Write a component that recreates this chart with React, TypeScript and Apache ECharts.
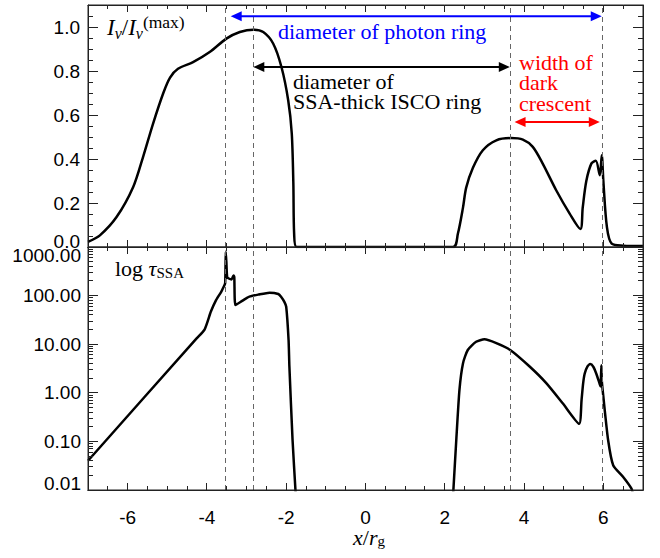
import React, { useEffect, useRef } from "react";
import * as echarts from "echarts";

// ---------- data ----------
const intensityX = [
  -7, -6.7, -6.28, -5.86, -5.61, -5.36, -5.1, -4.93, -4.73, -4.35, -3.93, -3.51, -3.17, -2.83,
  -2.58, -2.33, -2.12, -1.95, -1.86, -1.82, -1.8, -1.74, 2.21, 2.33, 2.46, 2.54, 2.71, 2.96, 3.3,
  3.67, 3.97, 4.22, 4.47, 4.81, 5.15, 5.42, 5.48, 5.57, 5.7, 5.81, 5.91, 5.96, 6.0, 6.09, 6.21,
  6.5, 7.0,
];
const intensityY = [
  0.023, 0.053, 0.136, 0.273, 0.41, 0.56, 0.7, 0.77, 0.81, 0.84, 0.886, 0.947, 0.977, 0.988,
  0.977, 0.925, 0.818, 0.667, 0.516, 0.289, 0.06, 0.0, 0.0, 0.06, 0.18, 0.27, 0.36, 0.44, 0.485,
  0.495, 0.488, 0.455, 0.379, 0.258, 0.152, 0.082, 0.18, 0.3, 0.38, 0.392, 0.326, 0.417, 0.3,
  0.09, 0.015, 0.006, 0.004,
];

const tauX = [
  -7, -4.26, -4.06, -3.9, -3.77, -3.64, -3.58, -3.54, -3.525, -3.51, -3.49, -3.45, -3.38, -3.33,
  -3.31, -3.28, -3.1, -2.93, -2.7, -2.42, -2.2, -2.13, -2.05, -2.0, -1.94, -1.92, -1.84, -1.76, 0,
  2.21, 2.29, 2.37, 2.46, 2.58, 2.79, 3.0, 3.3, 3.65, 4.14, 4.56, 4.98, 5.39, 5.45, 5.49, 5.53,
  5.6, 5.67, 5.75, 5.82, 5.91, 5.93, 5.95, 5.96, 6.0, 6.12, 6.25, 6.5, 6.71, 6.75,
];
const tauY = [
  0.04, 13.2, 20, 47, 81, 120, 150, 180, 800, 500, 240, 225, 215, 260, 240, 64, 79, 95, 105, 115,
  108, 95, 75, 59, 12, 3.5, 0.107, 0.008, null, 0.008, 0.107, 1.15, 4.07, 7.6, 11.2, 12.6, 10.5,
  7.6, 3.47, 1.58, 0.6, 0.23, 0.71, 1.57, 2.5, 3.5, 3.9, 3.4, 2.5, 1.5, 1.35, 3.7, 1.8, 0.83,
  0.107, 0.032, 0.0186, 0.0107, 0.008,
];

// vertical dashed guide lines
const guideX = [-3.54, -2.83, 3.65, 5.97];
// annotation arrows: [x start, x end, y level] in data units of the upper panel
const photonArrow = [-3.4, 5.96, 1.049];
const iscoArrow = [-2.83, 3.64, 0.818];
const crescentArrow = [3.76, 5.91, 0.568];

// ticks / axis ranges
const xRange = [-7, 7];
const xMajorTicks = [-6, -4, -2, 0, 2, 4, 6];
const xMinorTicks = [
  -6.5, -5.5, -5, -4.5, -3.5, -3, -2.5, -1.5, -1, -0.5, 0.5, 1, 1.5, 2.5, 3, 3.5, 4.5, 5, 5.5, 6.5,
];
const intensityRange = [0, 1.1];
const intensityMajorTicks = [0, 0.2, 0.4, 0.6, 0.8, 1.0];
const intensityMinorTicks = [
  0.05, 0.1, 0.15, 0.25, 0.3, 0.35, 0.45, 0.5, 0.55, 0.65, 0.7, 0.75, 0.85, 0.9, 0.95, 1.05,
];
const tauRange = [0.01, 1000];
const tauMajorTicks = [0.01, 0.1, 1, 10, 100, 1000];
const tauDecades = [0.01, 0.1, 1, 10, 100];
const tauMultipliers = [2, 3, 4, 5, 6, 7, 8, 9];

const SANS = '"Liberation Sans", Arial, Helvetica, sans-serif';
const SERIF = '"Liberation Serif", "Times New Roman", "DejaVu Serif", serif';
const AX = "#222";
const TICK_FONT = 19;

const tickRich = (extra: any) => ({ fontSize: TICK_FONT, fontFamily: SANS, color: "#000", ...extra });

function frameX(grid: number, position: string, labels: any) {
  return {
    type: "value",
    gridIndex: grid,
    position,
    min: xRange[0],
    max: xRange[1],
    splitLine: { show: false },
    axisLine: { show: true, onZero: false, lineStyle: { color: AX, width: 1 } },
    axisTick: { show: false },
    axisLabel: labels,
  };
}

export default function App() {
  const ref = useRef<HTMLDivElement>(null);

  useEffect(() => {
    if (!ref.current) return;
    const chart = echarts.init(ref.current, undefined, { renderer: "svg" });

    const tauMinorTicks: number[] = [];
    tauDecades.forEach((d) => tauMultipliers.forEach((m) => tauMinorTicks.push(+(d * m).toPrecision(3))));

    const guideMarks = {
      silent: true,
      symbol: "none",
      label: { show: false },
      lineStyle: { type: [5, 4], color: "#666", width: 1 },
      data: guideX.map((x) => ({ xAxis: x })),
    };

    const xLabels = {
      show: true,
      customValues: xMajorTicks,
      margin: 18,
      color: "#000",
      fontSize: TICK_FONT,
      fontFamily: SANS,
      formatter: (v: number) => String(Math.round(v)),
    };

    const topLabel = {
      show: true,
      customValues: intensityMajorTicks,
      margin: 8,
      color: "#000",
      fontSize: TICK_FONT,
      fontFamily: SANS,
      formatter: (v: number) => (v < 0.05 ? "{lo|" + v.toFixed(1) + "}" : v.toFixed(1)),
      rich: { lo: tickRich({ padding: [0, 0, 12, 0] }) },
    };
    const bottomLabel = {
      show: true,
      customValues: tauMajorTicks,
      margin: 7,
      color: "#000",
      fontSize: TICK_FONT,
      fontFamily: SANS,
      formatter: (v: number) => {
        const s = v.toFixed(2);
        if (v > 500) return "{hi|" + s + "}";
        if (v < 0.05) return "{lo|" + s + "}";
        return s;
      },
      rich: {
        hi: tickRich({ padding: [17, 0, 0, 0] }),
        lo: tickRich({ padding: [0, 0, 14, 0] }),
      },
    };

    const yTop = (position: string, label: any) => ({
      type: "value",
      gridIndex: 0,
      position,
      min: intensityRange[0],
      max: intensityRange[1],
      splitLine: { show: false },
      axisLine: { show: true, onZero: false, lineStyle: { color: AX, width: 1 } },
      axisTick: { show: false },
      axisLabel: label,
    });
    const yBot = (position: string, label: any) => ({
      type: "log",
      logBase: 10,
      gridIndex: 1,
      position,
      min: tauRange[0],
      max: tauRange[1],
      splitLine: { show: false },
      axisLine: { show: true, onZero: false, lineStyle: { color: AX, width: 1 } },
      axisTick: { show: false },
      axisLabel: label,
    });

    const option: any = {
      animation: false,
      backgroundColor: "#fff",
      grid: [
        { left: 88, top: 5, width: 555, height: 242, outerBoundsMode: "none", containLabel: false },
        { left: 88, top: 247, width: 555, height: 243, outerBoundsMode: "none", containLabel: false },
      ],
      xAxis: [
        frameX(0, "bottom", { show: false }),
        frameX(0, "top", { show: false }),
        frameX(1, "bottom", xLabels),
        frameX(1, "top", { show: false }),
      ],
      yAxis: [
        yTop("left", topLabel),
        yTop("right", { show: false }),
        yBot("left", bottomLabel),
        yBot("right", { show: false }),
      ],
      series: [
        {
          type: "line",
          xAxisIndex: 0,
          yAxisIndex: 0,
          data: intensityX.map((x, i) => [x, intensityY[i]]),
          symbol: "none",
          smooth: 0.3,
          clip: true,
          lineStyle: { color: "#000", width: 2.5 },
          markLine: guideMarks,
          z: 3,
        },
        {
          type: "line",
          xAxisIndex: 2,
          yAxisIndex: 2,
          data: tauX.map((x, i) => [x, tauY[i]]),
          symbol: "none",
          smooth: 0.2,
          connectNulls: false,
          clip: true,
          lineStyle: { color: "#000", width: 2.5 },
          markLine: guideMarks,
          z: 3,
        },
      ],
    };
    chart.setOption(option);

    const toPx = (xi: number, yi: number, x: number, y: number) =>
      chart.convertToPixel({ xAxisIndex: xi, yAxisIndex: yi }, [x, y]) as number[];
    const crisp = (v: number) => Math.floor(v) + 0.5;
    const r2 = (v: number) => Math.round(v * 100) / 100;

    // Inward ticks on every side of both panels, positioned through the axes' scales.
    // Each side is drawn as one "comb" polyline running along the frame.
    const panels = [
      { xi: 0, yi: 0, yMin: intensityRange[0], yMax: intensityRange[1], yMajor: intensityMajorTicks, yMinor: intensityMinorTicks },
      { xi: 2, yi: 2, yMin: tauRange[0], yMax: tauRange[1], yMajor: tauMajorTicks, yMinor: tauMinorTicks },
    ];
    const combs: any[] = [];
    let pathD = "";
    panels.forEach((p) => {
      const bottom = toPx(p.xi, p.yi, xRange[0], p.yMin)[1];
      const top = toPx(p.xi, p.yi, xRange[0], p.yMax)[1];
      const left = toPx(p.xi, p.yi, xRange[0], p.yMin)[0];
      const right = toPx(p.xi, p.yi, xRange[1], p.yMin)[0];
      const xs = [
        ...xMajorTicks.map((v) => ({ at: crisp(toPx(p.xi, p.yi, v, p.yMin)[0]), len: 7 })),
        ...xMinorTicks.map((v) => ({ at: crisp(toPx(p.xi, p.yi, v, p.yMin)[0]), len: 4 })),
      ].sort((a, b) => a.at - b.at);
      const ys = [
        ...p.yMajor.map((v) => ({ at: crisp(toPx(p.xi, p.yi, xRange[0], v)[1]), len: 10 })),
        ...p.yMinor.map((v) => ({ at: crisp(toPx(p.xi, p.yi, xRange[0], v)[1]), len: 5 })),
      ].sort((a, b) => a.at - b.at);

      const horiz = (edge: number, dir: number) => {
        const pts: number[][] = [[left, edge]];
        xs.forEach((t) => {
          pts.push([t.at, edge], [t.at, edge + dir * t.len], [t.at, edge]);
          pathD += `M${r2(t.at)} ${r2(edge)}L${r2(t.at)} ${r2(edge + dir * t.len)}`;
        });
        pts.push([right, edge]);
        combs.push({ type: "polyline", z: 9, shape: { points: pts }, style: { stroke: AX, lineWidth: 1, fill: null } });
      };
      const vert = (edge: number, dir: number) => {
        const pts: number[][] = [[edge, top]];
        ys.forEach((t) => {
          pts.push([edge, t.at], [edge + dir * t.len, t.at], [edge, t.at]);
          pathD += `M${r2(edge)} ${r2(t.at)}L${r2(edge + dir * t.len)} ${r2(t.at)}`;
        });
        pts.push([edge, bottom]);
        combs.push({ type: "polyline", z: 9, shape: { points: pts }, style: { stroke: AX, lineWidth: 1, fill: null } });
      };
      horiz(bottom, -1);
      horiz(top, 1);
      vert(left, 1);
      vert(right, -1);
    });

    let tickPath: any[] = [];
    try {
      echarts.graphic.registerShape("axisTicks", (echarts.graphic as any).extendPath(pathD, {}));
      tickPath = [{ type: "axisTicks", z: 9, style: { stroke: AX, lineWidth: 1, fill: null } }];
    } catch (e) {
      tickPath = [];
    }

    const arrow = (spec: number[], color: string) => {
      const a = toPx(0, 0, spec[0], spec[2]);
      const b = toPx(0, 0, spec[1], spec[2]);
      const L = 11;
      const H = 5;
      const y = a[1];
      return [
        { type: "line", shape: { x1: a[0] + L - 1, y1: y, x2: b[0] - L + 1, y2: y }, style: { stroke: color, lineWidth: 2 }, z: 10 },
        { type: "polygon", shape: { points: [[a[0], y], [a[0] + L, y - H], [a[0] + L, y + H]] }, style: { fill: color }, z: 10 },
        { type: "polygon", shape: { points: [[b[0], y], [b[0] - L, y - H], [b[0] - L, y + H]] }, style: { fill: color }, z: 10 },
      ];
    };

    const txt = (text: string, x: number, y: number, fill: string) => ({
      type: "text",
      x,
      y,
      z: 10,
      style: {
        text,
        fill,
        fontSize: 22,
        lineHeight: 20.3,
        fontFamily: SERIF,
        verticalAlign: "top",
        align: "left",
      },
    });

    const iLabelRich = {
      i: { fontFamily: SERIF, fontStyle: "italic", fontSize: 23, lineHeight: 28, fill: "#000" },
      r: { fontFamily: SERIF, fontSize: 23, lineHeight: 28, fill: "#000" },
      s: { fontFamily: SERIF, fontStyle: "italic", fontSize: 16, lineHeight: 14, verticalAlign: "bottom", fill: "#000" },
      p: { fontFamily: SERIF, fontSize: 17.5, lineHeight: 14, verticalAlign: "top", fill: "#000" },
    };
    const tauLabelRich = {
      r: { fontFamily: SERIF, fontSize: 22, lineHeight: 24, fill: "#000" },
      i: { fontFamily: SERIF, fontStyle: "italic", fontSize: 22, lineHeight: 24, fill: "#000" },
      s: { fontFamily: SERIF, fontSize: 15, lineHeight: 14, verticalAlign: "bottom", fill: "#000" },
    };
    const xTitleRich = {
      r: { fontFamily: SERIF, fontSize: 22, lineHeight: 22, fill: "#000" },
      i: { fontFamily: SERIF, fontStyle: "italic", fontSize: 22, lineHeight: 22, fill: "#000" },
      s: { fontFamily: SERIF, fontSize: 15, lineHeight: 14, verticalAlign: "bottom", fill: "#000" },
    };

    const graphics: any[] = [
      ...combs,
      ...tickPath,
      ...arrow(photonArrow, "#0000ff"),
      ...arrow(iscoArrow, "#000000"),
      ...arrow(crescentArrow, "#ff0000"),
      txt("diameter of photon ring", 278, 21, "#0000ff"),
      txt("diameter of\nSSA-thick ISCO ring", 293, 71, "#000"),
      txt("width of\ndark\ncrescent", 519, 52.5, "#ff0000"),
      {
        type: "text",
        x: 107,
        y: 27,
        z: 10,
        style: {
          text: "{i|I}{s|ν}{r|/}{i|I}{s|ν}{p|(max)}",
          rich: iLabelRich,
          verticalAlign: "middle",
          align: "left",
        },
      },
      {
        type: "text",
        x: 115,
        y: 268,
        z: 10,
        style: {
          text: "{r|log }{i|τ}{s|SSA}",
          rich: tauLabelRich,
          verticalAlign: "middle",
          align: "left",
        },
      },
      {
        type: "text",
        x: 369,
        y: 537,
        z: 10,
        style: {
          text: "{i|x}{r|/}{i|r}{s|g}",
          rich: xTitleRich,
          verticalAlign: "middle",
          align: "center",
        },
      },
    ];
    chart.setOption({ graphic: graphics });

    return () => chart.dispose();
  }, []);

  return (
    <div
      ref={ref}
      style={{ position: "fixed", left: 0, top: 0, width: 660, height: 558, background: "#fff" }}
    />
  );
}
